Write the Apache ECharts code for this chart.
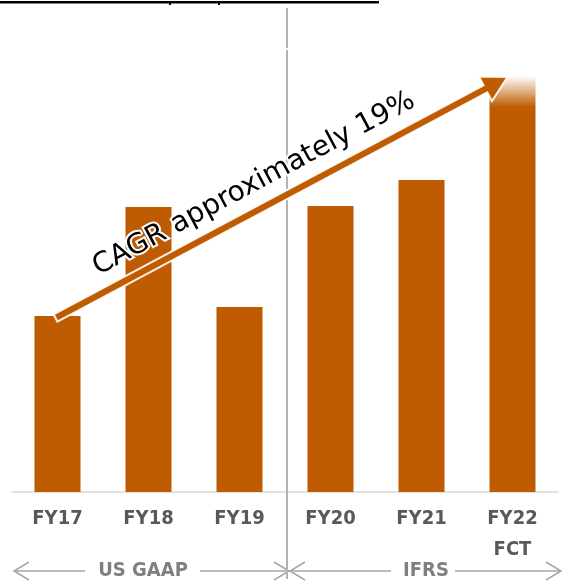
<!DOCTYPE html>
<html>
<head>
<meta charset="utf-8">
<script src="https://cdn.jsdelivr.net/npm/echarts@6/dist/echarts.min.js"></script>
<style>
  html, body { margin: 0; padding: 0; background: #ffffff; }
  #chart { width: 571px; height: 581px; }
</style>
</head>
<body>
<div id="chart"></div>
<script>
// Fiscal years and bar heights (relative scale)
const categories = ['FY17', 'FY18', 'FY19', 'FY20', 'FY21', 'FY22'];
const values = [176, 285, 185, 286, 312, 416];
const categoryLabels = ['FY17', 'FY18', 'FY19', 'FY20', 'FY21', 'FY22\nFCT'];
const cagrText = 'CAGR approximately 19%';
const standards = ['US GAAP', 'IFRS'];

const BAR = '#BF5B00';
const LABEL_FONT = '"DejaVu Sans Condensed", "DejaVu Sans", sans-serif';
const GRID = { left: 12, right: 13, top: 0, bottom: 89 };

const chart = echarts.init(document.getElementById('chart'), null, { renderer: 'canvas' });

// Forecast year fades out at the top
const fcIndex = categories.length - 1;
const barData = values.map((v, i) => i === fcIndex ? {
  value: v,
  itemStyle: {
    color: {
      type: 'linear', x: 0, y: 0, x2: 0, y2: 1,
      colorStops: [
        { offset: 0, color: 'rgba(191,91,0,0)' },
        { offset: 0.075, color: BAR },
        { offset: 1, color: BAR }
      ]
    }
  }
} : v);

chart.setOption({
  animation: false,
  backgroundColor: '#ffffff',
  grid: GRID,
  xAxis: {
    type: 'category',
    data: categories,
    axisLine: { lineStyle: { color: '#d9d9d9', width: 1.5 } },
    axisTick: { show: false },
    axisLabel: {
      formatter: (v, i) => categoryLabels[i],
      color: '#595959',
      fontFamily: LABEL_FONT,
      fontWeight: 'bold',
      fontSize: 20,
      lineHeight: 31,
      margin: 11
    }
  },
  yAxis: {
    type: 'value',
    min: 0,
    max: 492,
    show: false
  },
  series: [{
    type: 'bar',
    data: barData,
    barWidth: 46,
    itemStyle: { color: BAR },
    z: 2
  }]
});

// Growth arrow from the first bar top to the forecast bar top
const p0 = chart.convertToPixel({ gridIndex: 0 }, [0, values[0]]);
const p1 = chart.convertToPixel({ gridIndex: 0 }, [fcIndex, values[fcIndex]]);
const tail = [p0[0] - 2, p0[1] + 2];
const tip = [p1[0] - 5, p1[1] + 1];
const dx = tip[0] - tail[0], dy = tip[1] - tail[1];
const len = Math.sqrt(dx * dx + dy * dy);
const ux = dx / len, uy = dy / len;
const nx = -uy, ny = ux;
const headLen = 25, headHalf = 14, shaftHalf = 4;
const base = [tip[0] - ux * headLen, tip[1] - uy * headLen];
const angle = Math.atan2(-dy, dx);

const arrowShape = [
  [tail[0] + nx * shaftHalf, tail[1] + ny * shaftHalf],
  [base[0] + nx * shaftHalf, base[1] + ny * shaftHalf],
  [base[0] + nx * headHalf, base[1] + ny * headHalf],
  tip,
  [base[0] - nx * headHalf, base[1] - ny * headHalf],
  [base[0] - nx * shaftHalf, base[1] - ny * shaftHalf],
  [tail[0] - nx * shaftHalf, tail[1] - ny * shaftHalf]
];

// Text sits just above the arrow shaft
const mid = [tail[0] + dx * 0.465, tail[1] + dy * 0.465];
const textPos = [mid[0] - nx * 25, mid[1] - ny * 25];

// Accounting-standard brackets under the axis
const yBr = 571;
const GREY = '#a6a6a6';
function bracket(x1, x2, t1, t2) {
  const els = [];
  els.push({ type: 'line', shape: { x1: x1, y1: yBr, x2: t1, y2: yBr }, style: { stroke: GREY, lineWidth: 1.5 } });
  els.push({ type: 'line', shape: { x1: t2, y1: yBr, x2: x2, y2: yBr }, style: { stroke: GREY, lineWidth: 1.5 } });
  els.push({ type: 'polyline', shape: { points: [[x1 + 15, yBr - 9], [x1, yBr], [x1 + 15, yBr + 9]] }, style: { stroke: GREY, lineWidth: 1.5, fill: null } });
  els.push({ type: 'polyline', shape: { points: [[x2 - 15, yBr - 9], [x2, yBr], [x2 - 15, yBr + 9]] }, style: { stroke: GREY, lineWidth: 1.5, fill: null } });
  return els;
}

const divX = 287;
const graphics = [
  // header rule
  { type: 'rect', shape: { x: 0, y: 1, width: 379, height: 2.5 }, style: { fill: '#000000' } },
  { type: 'rect', shape: { x: 169, y: 1, width: 2, height: 4 }, style: { fill: '#000000' } },
  { type: 'rect', shape: { x: 218, y: 1, width: 2, height: 4 }, style: { fill: '#000000' } },
  // divider between standards
  { type: 'line', shape: { x1: divX, y1: 8, x2: divX, y2: 48 }, style: { stroke: '#b3b3b3', lineWidth: 2 }, z: 1 },
  { type: 'line', shape: { x1: divX, y1: 50, x2: divX, y2: 579 }, style: { stroke: '#b3b3b3', lineWidth: 2 }, z: 1 },
  // growth arrow
  { type: 'polygon', shape: { points: arrowShape }, style: { fill: BAR, stroke: 'rgba(255,255,255,0.9)', lineWidth: 2 }, z: 10 },
  {
    type: 'text', x: textPos[0], y: textPos[1], rotation: angle, z: 11,
    style: {
      text: cagrText, fill: '#000000', fontFamily: '"DejaVu Sans", sans-serif', fontSize: 28,
      align: 'center', verticalAlign: 'middle',
      stroke: '#ffffff', lineWidth: 4
    }
  },
  // standards labels
  { type: 'text', x: 143, y: yBr, style: { text: standards[0], fill: '#7f7f7f', fontFamily: LABEL_FONT, fontWeight: 'bold', fontSize: 20, align: 'center', verticalAlign: 'middle' } },
  { type: 'text', x: 426, y: yBr, style: { text: standards[1], fill: '#7f7f7f', fontFamily: LABEL_FONT, fontWeight: 'bold', fontSize: 20, align: 'center', verticalAlign: 'middle' } }
].concat(bracket(14, 289, 85, 200), bracket(290, 561, 391, 455));

chart.setOption({ graphic: graphics });
</script>
</body>
</html>
